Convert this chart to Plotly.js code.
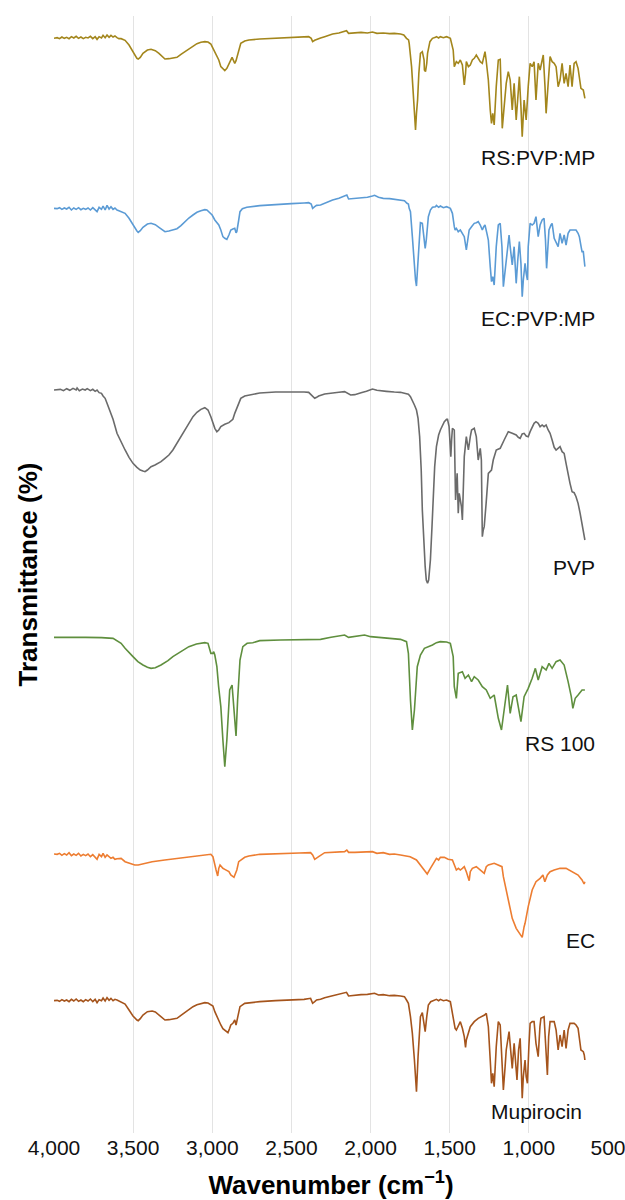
<!DOCTYPE html>
<html>
<head>
<meta charset="utf-8">
<script src="https://cdn.plot.ly/plotly-3.0.1.min.js"></script>
<style>html,body{margin:0;padding:0;background:#fff;}#chart{width:625px;height:1200px;}</style>
</head>
<body>
<div id="chart"></div>
<script>
// Wavenumber (cm-1) / depth (a.u., larger = lower transmittance) pairs
const seriesNames = ["RS:PVP:MP", "EC:PVP:MP", "PVP", "RS 100", "EC", "Mupirocin"];
const stackOffsets = [0, 540, 1080, 1800, 2400, 2850];
const xTickVals = [4000, 3500, 3000, 2500, 2000, 1500, 1000, 500];
const xTickText = ["4,000", "3,500", "3,000", "2,500", "2,000", "1,500", "1,000", "500"];

const rsPvpMp = [[4000,115],[3980,113],[3965,116],[3950,111],[3935,115],[3920,112],[3905,116],[3890,110],[3875,114],[3860,109],[3845,115],[3830,111],[3815,116],[3800,112],[3785,114],[3770,109],[3755,116],[3740,110],[3728,118],[3715,110],[3700,114],[3690,106],[3677,113],[3665,105],[3652,112],[3640,106],[3627,111],[3615,108],[3602,113],[3590,116],[3576,116],[3551,121],[3526,135],[3501,155],[3476,175],[3468,177],[3455,172],[3438,160],[3410,150],[3387,148],[3360,152],[3337,160],[3310,172],[3299,177],[3274,176],[3249,175],[3223,172],[3198,163],[3173,155],[3148,146],[3122,138],[3097,131],[3072,127],[3047,125],[3027,126],[3009,132],[3001,140],[2984,158],[2971,170],[2959,180],[2946,200],[2933,205],[2921,212],[2908,205],[2895,190],[2883,180],[2875,172],[2863,185],[2858,190],[2850,182],[2840,165],[2820,130],[2795,123],[2769,120],[2700,117],[2600,115],[2500,113],[2420,111],[2391,110],[2375,115],[2366,125],[2353,121],[2341,118],[2316,114],[2290,110],[2240,102],[2200,99],[2164,95],[2152,92],[2139,100],[2100,98],[2060,97],[2020,99],[1988,96],[1960,100],[1920,99],[1880,101],[1850,100],[1811,102],[1790,105],[1773,115],[1760,120],[1756,130],[1748,165],[1741,200],[1733,260],[1728,300],[1720,350],[1716,390],[1710,340],[1703,300],[1695,220],[1685,160],[1673,155],[1662,180],[1660,210],[1653,215],[1645,190],[1640,160],[1625,125],[1609,115],[1590,112],[1584,110],[1570,114],[1559,110],[1540,113],[1520,110],[1496,115],[1483,140],[1478,150],[1471,200],[1458,185],[1446,190],[1433,180],[1420,195],[1408,255],[1400,220],[1395,185],[1382,200],[1370,195],[1357,180],[1345,175],[1332,165],[1320,175],[1307,185],[1294,190],[1285,165],[1277,155],[1270,180],[1256,240],[1244,330],[1236,370],[1228,340],[1219,375],[1206,260],[1193,180],[1181,178],[1172,300],[1168,385],[1156,320],[1143,250],[1130,215],[1118,240],[1105,330],[1093,250],[1080,360],[1070,290],[1060,230],[1050,320],[1042,410],[1030,300],[1017,360],[1004,260],[992,190],[979,200],[967,185],[955,300],[941,190],[929,210],[909,165],[898,260],[891,340],[878,250],[866,170],[853,185],[840,190],[828,200],[815,260],[803,240],[790,190],[777,250],[765,220],[752,260],[740,195],[727,260],[714,190],[702,185],[689,205],[671,265],[656,270],[650,285],[646,295]];

const ecPvpMp = [[4000,85],[3980,86],[3965,83],[3950,88],[3935,84],[3920,87],[3905,82],[3890,90],[3875,84],[3860,88],[3845,83],[3830,89],[3815,85],[3800,88],[3785,84],[3770,90],[3755,83],[3740,89],[3728,95],[3715,82],[3700,88],[3690,78],[3677,90],[3665,76],[3652,87],[3640,80],[3627,88],[3615,84],[3602,90],[3590,92],[3576,95],[3551,100],[3526,115],[3501,135],[3476,153],[3468,157],[3455,152],[3438,142],[3410,132],[3387,130],[3360,134],[3337,142],[3310,152],[3299,155],[3274,153],[3249,150],[3223,146],[3198,137],[3173,125],[3148,114],[3122,105],[3097,97],[3072,92],[3047,89],[3034,90],[3022,95],[3001,105],[2984,120],[2971,130],[2959,135],[2946,150],[2933,170],[2921,175],[2908,178],[2895,165],[2883,150],[2870,147],[2858,145],[2850,158],[2845,155],[2833,120],[2825,95],[2810,86],[2782,82],[2700,77],[2600,73],[2500,71],[2420,69],[2391,68],[2375,72],[2366,85],[2353,80],[2341,76],[2316,75],[2290,70],[2240,60],[2200,55],[2164,48],[2150,45],[2139,57],[2100,56],[2060,54],[2020,52],[1988,48],[1975,46],[1950,52],[1920,55],[1880,56],[1850,58],[1811,60],[1786,62],[1770,70],[1761,72],[1756,85],[1748,95],[1736,170],[1731,200],[1723,270],[1716,300],[1710,318],[1703,260],[1698,200],[1690,150],[1685,128],[1673,130],[1665,170],[1655,205],[1648,180],[1640,140],[1635,110],[1622,90],[1609,82],[1590,80],[1584,76],[1570,82],[1559,78],[1540,83],[1520,80],[1496,85],[1483,100],[1471,140],[1466,150],[1458,145],[1446,155],[1433,150],[1420,160],[1408,170],[1395,210],[1385,175],[1377,150],[1362,140],[1345,130],[1332,128],[1320,125],[1307,135],[1294,150],[1285,140],[1277,135],[1265,160],[1256,180],[1244,260],[1236,305],[1228,290],[1219,315],[1206,200],[1193,135],[1181,130],[1170,200],[1161,320],[1150,270],[1143,230],[1130,175],[1125,165],[1118,200],[1105,255],[1093,200],[1080,310],[1070,240],[1060,185],[1050,250],[1042,350],[1035,300],[1024,250],[1017,280],[1009,300],[1004,200],[992,130],[979,135],[967,130],[955,110],[941,170],[929,135],[916,120],[904,115],[895,180],[888,265],[880,200],[873,150],[860,135],[853,130],[840,175],[828,190],[815,200],[803,160],[790,190],[777,165],[765,195],[752,160],[740,150],[727,150],[714,150],[702,150],[689,160],[681,170],[670,200],[664,215],[656,215],[650,240],[646,260]];

const pvp = [[4000,90],[3980,90],[3960,88],[3940,92],[3920,86],[3900,91],[3880,85],[3860,90],[3854,84],[3840,92],[3820,87],[3803,90],[3790,86],[3770,92],[3755,88],[3740,94],[3728,90],[3715,98],[3700,100],[3690,108],[3677,115],[3665,130],[3652,145],[3627,178],[3602,220],[3576,248],[3551,270],[3526,292],[3501,310],[3476,322],[3455,330],[3438,333],[3425,335],[3410,330],[3387,320],[3362,315],[3337,308],[3324,305],[3299,295],[3274,285],[3249,270],[3223,250],[3198,230],[3173,210],[3148,190],[3122,170],[3097,157],[3072,148],[3047,143],[3027,150],[3009,170],[2996,190],[2984,205],[2971,215],[2959,210],[2946,200],[2933,196],[2921,193],[2895,188],[2870,178],[2858,160],[2845,145],[2833,130],[2820,115],[2795,108],[2769,105],[2700,99],[2600,96],[2500,95],[2420,96],[2391,97],[2375,105],[2353,115],[2341,112],[2328,108],[2290,102],[2240,98],[2200,97],[2164,95],[2139,100],[2126,105],[2100,104],[2089,103],[2060,98],[2026,94],[2000,90],[1988,87],[1960,91],[1937,93],[1900,94],[1850,96],[1811,97],[1786,100],[1761,103],[1748,110],[1736,120],[1723,135],[1710,150],[1700,175],[1690,230],[1680,330],[1673,450],[1665,550],[1655,620],[1648,660],[1640,670],[1633,660],[1622,600],[1612,500],[1604,400],[1595,320],[1584,260],[1570,225],[1559,210],[1545,195],[1534,185],[1520,178],[1514,178],[1504,200],[1493,290],[1488,240],[1483,205],[1471,210],[1466,300],[1463,420],[1458,380],[1453,340],[1446,460],[1440,400],[1433,420],[1426,440],[1420,480],[1414,380],[1408,290],[1395,230],[1382,270],[1370,230],[1362,210],[1345,205],[1340,215],[1332,230],[1320,300],[1312,280],[1307,265],[1300,300],[1294,530],[1288,510],[1282,500],[1270,430],[1256,340],[1236,330],[1225,300],[1206,270],[1181,265],[1156,240],[1130,215],[1105,220],[1080,225],[1067,232],[1055,235],[1042,222],[1030,220],[1017,228],[1004,230],[992,215],[979,200],[967,190],[955,185],[941,190],[929,200],[916,195],[904,200],[891,195],[878,210],[866,220],[853,240],[840,262],[828,270],[815,265],[803,260],[790,275],[777,280],[765,310],[752,345],[740,370],[727,395],[714,398],[702,410],[689,430],[676,460],[664,490],[656,510],[646,540]];

const rs100 = [[4000,112],[3900,111],[3800,112],[3700,113],[3627,115],[3576,130],[3551,145],[3501,170],[3470,185],[3438,195],[3410,202],[3387,205],[3360,203],[3324,195],[3280,182],[3249,170],[3200,155],[3148,140],[3100,132],[3047,128],[3027,130],[3009,160],[2996,160],[2991,155],[2984,165],[2971,200],[2960,260],[2946,320],[2933,420],[2921,500],[2908,420],[2890,270],[2875,255],[2863,330],[2850,408],[2840,300],[2825,180],[2807,140],[2780,130],[2744,128],[2700,122],[2568,120],[2450,119],[2391,118],[2366,117],[2316,118],[2250,112],[2200,108],[2164,105],[2139,112],[2100,110],[2038,105],[2000,110],[1950,112],[1900,114],[1811,118],[1773,125],[1761,160],[1748,300],[1736,390],[1723,330],[1705,200],[1685,165],[1660,145],[1609,135],[1584,128],[1559,125],[1520,126],[1496,130],[1478,170],[1471,260],[1458,295],[1446,220],[1420,215],[1403,235],[1382,225],[1362,245],[1345,230],[1320,240],[1294,260],[1269,270],[1244,295],[1219,285],[1193,355],[1173,390],[1156,330],[1135,255],[1118,340],[1100,290],[1080,285],[1067,315],[1050,365],[1030,290],[1004,265],[979,235],[959,205],[941,240],[916,200],[891,210],[873,190],[853,205],[828,185],[803,180],[777,195],[752,245],[732,290],[722,325],[707,295],[689,285],[664,270],[646,270]];

const ec = [[4000,162],[3980,163],[3965,160],[3950,166],[3935,161],[3920,165],[3905,158],[3890,167],[3875,162],[3860,166],[3845,160],[3830,168],[3815,163],[3800,167],[3785,162],[3770,170],[3755,164],[3740,172],[3728,178],[3715,163],[3700,170],[3690,160],[3677,172],[3665,165],[3652,170],[3640,175],[3627,172],[3615,178],[3602,176],[3576,175],[3551,185],[3526,190],[3490,195],[3468,195],[3440,192],[3380,185],[3300,180],[3200,174],[3100,168],[3034,164],[3009,163],[2996,170],[2984,200],[2976,210],[2966,228],[2959,205],[2951,195],[2933,205],[2921,208],[2895,215],[2883,225],[2863,232],[2845,210],[2833,185],[2795,172],[2769,168],[2700,163],[2568,160],[2450,159],[2379,158],[2366,165],[2353,178],[2341,175],[2328,170],[2290,158],[2240,157],[2164,155],[2150,150],[2139,157],[2100,157],[2040,157],[1988,155],[1960,160],[1920,158],[1880,163],[1850,162],[1811,165],[1780,168],[1750,170],[1710,180],[1685,195],[1660,210],[1642,222],[1622,205],[1600,185],[1584,175],[1570,180],[1559,172],[1534,172],[1510,178],[1483,180],[1458,210],[1445,205],[1433,210],[1420,205],[1408,200],[1395,215],[1377,242],[1370,215],[1357,205],[1332,200],[1307,210],[1282,220],[1269,200],[1256,195],[1219,190],[1193,195],[1170,200],[1161,230],[1140,275],[1130,300],[1105,355],[1080,385],[1055,405],[1042,412],[1030,380],[1024,370],[1004,320],[979,270],[955,245],[929,235],[911,225],[899,245],[883,225],[866,215],[840,210],[803,205],[765,205],[727,215],[689,225],[664,240],[651,252],[646,245]];

const mupirocin = [[4000,152],[3980,151],[3965,154],[3950,149],[3935,153],[3920,150],[3905,155],[3890,148],[3875,153],[3860,147],[3845,154],[3830,150],[3815,155],[3800,149],[3785,153],[3770,147],[3755,155],[3740,148],[3728,158],[3715,149],[3700,152],[3690,144],[3677,153],[3665,143],[3652,151],[3640,145],[3627,152],[3615,148],[3602,150],[3590,153],[3576,155],[3551,162],[3526,180],[3501,198],[3476,210],[3468,212],[3455,206],[3438,195],[3410,185],[3380,183],[3360,186],[3337,195],[3310,205],[3299,210],[3274,209],[3249,207],[3223,205],[3198,196],[3173,187],[3148,178],[3122,170],[3097,164],[3072,160],[3047,158],[3027,159],[3009,163],[2996,168],[2984,185],[2971,200],[2959,215],[2946,225],[2933,236],[2921,240],[2908,246],[2901,248],[2890,235],[2883,225],[2870,220],[2858,210],[2850,225],[2840,200],[2825,170],[2795,160],[2769,158],[2700,155],[2600,152],[2500,150],[2420,148],[2379,145],[2366,160],[2353,155],[2341,150],[2316,148],[2290,143],[2240,137],[2200,133],[2164,130],[2152,127],[2139,138],[2100,135],[2060,134],[2020,133],[1975,130],[1950,135],[1920,134],[1880,137],[1850,136],[1811,138],[1786,140],[1773,150],[1761,160],[1748,200],[1736,250],[1723,330],[1710,425],[1700,320],[1690,230],[1685,200],[1673,188],[1660,230],[1655,245],[1645,200],[1635,165],[1620,155],[1600,150],[1584,148],[1570,152],[1559,148],[1540,152],[1520,150],[1496,155],[1478,210],[1466,235],[1458,240],[1446,225],[1433,215],[1420,235],[1408,260],[1400,292],[1395,270],[1370,230],[1345,215],[1320,205],[1294,200],[1280,195],[1269,190],[1256,230],[1244,330],[1236,400],[1228,370],[1219,410],[1206,290],[1193,215],[1181,225],[1170,330],[1161,420],[1150,350],[1143,300],[1125,245],[1115,290],[1105,355],[1093,280],[1075,390],[1065,300],[1055,265],[1048,350],[1042,445],[1035,380],[1024,330],[1017,380],[1009,400],[1000,290],[992,220],[979,215],[967,215],[955,280],[941,320],[930,230],[924,205],[904,200],[895,280],[883,375],[875,260],[866,215],[853,215],[840,215],[828,240],[815,300],[803,255],[790,290],[777,240],[765,295],[752,240],[740,220],[714,220],[702,225],[689,235],[671,300],[656,305],[650,315],[646,330]];

const allSeries = [rsPvpMp, ecPvpMp, pvp, rs100, ec, mupirocin];
const colors = ["#A3861C", "#5B9BD5", "#6B6B6B", "#5F8F3E", "#ED7D31", "#A5541C"];
// label placement (wavenumber of right edge, vertical position in stacked units)
const labelPos = [[570, 471], [570, 954], [570, 1701], [570, 2229], [570, 2820], [652, 3333]];

const traces = allSeries.map((s, i) => ({
  type: "scatter",
  mode: "lines",
  x: s.map(p => p[0]),
  y: s.map(p => stackOffsets[i] + p[1]),
  line: {color: colors[i], width: 1.6},
  name: seriesNames[i],
  hoverinfo: "skip"
}));

const annotations = seriesNames.map((n, i) => ({
  x: labelPos[i][0], y: labelPos[i][1], xref: "x", yref: "y",
  text: n, showarrow: false, xanchor: "right", yanchor: "middle",
  font: {family: "Liberation Sans, Arial, sans-serif", size: 21, color: "#111"}
}));
annotations.push({
  xref: "paper", yref: "paper", x: -0.047, y: 0.5, textangle: -90,
  text: "<b>Transmittance (%)</b>", showarrow: false, xanchor: "center", yanchor: "middle",
  font: {family: "Liberation Sans, Arial, sans-serif", size: 26, color: "#000"}
});

const layout = {
  width: 625, height: 1200,
  margin: {l: 54, r: 17, t: 16, b: 67},
  paper_bgcolor: "#fff", plot_bgcolor: "#fff",
  showlegend: false,
  font: {family: "Liberation Sans, Arial, sans-serif", color: "#000"},
  xaxis: {
    range: [4000, 500],
    tickvals: xTickVals, ticktext: xTickText,
    showgrid: true, gridcolor: "#e3e3e3", gridwidth: 1,
    zeroline: false, showline: false, ticks: "",
    ticklabeloverflow: "allow",
    tickfont: {size: 21, color: "#111"},
    title: {text: "<b>Wavenumber (cm<sup>−1</sup>)</b>", font: {size: 26, color: "#000"}, standoff: 17}
  },
  yaxis: {
    range: [3399, 48],
    showgrid: false, zeroline: false, showline: false, showticklabels: false, ticks: ""
  },
  annotations: annotations
};

Plotly.newPlot("chart", traces, layout, {staticPlot: true});
</script>
</body>
</html>
